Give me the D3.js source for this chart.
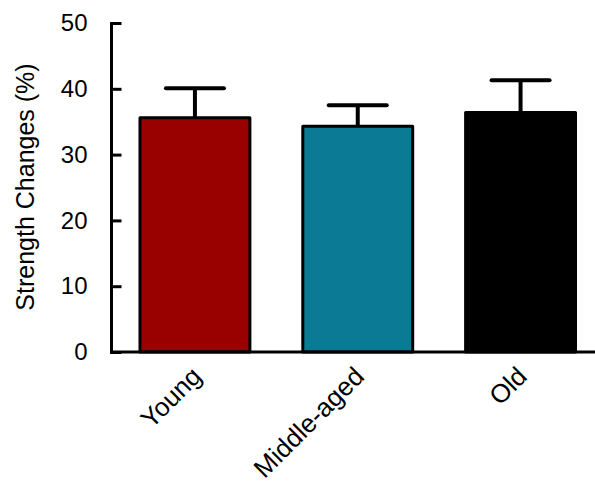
<!DOCTYPE html>
<html><head><meta charset="utf-8">
<script src="https://cdn.jsdelivr.net/npm/d3@7"></script>
<style>html,body{margin:0;padding:0;background:#fff;}svg{display:block;font-family:"Liberation Sans",Arial,sans-serif;}</style>
</head><body>
<script>
const categories = ["Young", "Middle-aged", "Old"];
const values = [35.6, 34.3, 36.4];
const errors = [4.5, 3.2, 4.9];
const colors = ["#990000", "#0B7A94", "#000000"];
const yTicks = [0, 10, 20, 30, 40, 50];

const W = 595, H = 482;
const svg = d3.select("body").append("svg").attr("width", W).attr("height", H);

const y = d3.scaleLinear().domain([0, 50]).range([352, 23]);
const x = d3.scaleBand().domain(categories).range([111.5, 604]).paddingInner(0.325).paddingOuter(0.175);

// bars
svg.selectAll("rect.bar").data(categories).join("rect")
  .attr("x", d => x(d)).attr("width", x.bandwidth())
  .attr("y", (d, i) => y(values[i])).attr("height", (d, i) => y(0) - y(values[i]))
  .attr("fill", (d, i) => colors[i]).attr("stroke", "#000").attr("stroke-width", 3).attr("stroke-linejoin", "round");

// error bars
const cap = 29;
const eb = svg.selectAll("g.err").data(categories).join("g");
eb.append("line")
  .attr("x1", d => x(d) + x.bandwidth()/2).attr("x2", d => x(d) + x.bandwidth()/2)
  .attr("y1", (d, i) => y(values[i])).attr("y2", (d, i) => y(values[i] + errors[i]))
  .attr("stroke", "#000").attr("stroke-width", 4);
eb.append("line")
  .attr("x1", d => x(d) + x.bandwidth()/2 - cap).attr("x2", d => x(d) + x.bandwidth()/2 + cap)
  .attr("y1", (d, i) => y(values[i] + errors[i])).attr("y2", (d, i) => y(values[i] + errors[i]))
  .attr("stroke", "#000").attr("stroke-width", 4).attr("stroke-linecap", "round");

// y axis
const yAxis = svg.append("g").attr("transform", "translate(111.5,0)")
  .call(d3.axisLeft(y).tickValues(yTicks).tickSize(-10).tickPadding(24).tickSizeOuter(0));
yAxis.select(".domain").attr("stroke-width", 3).attr("d", `M0,${y(50)}V${y(0)+1.5}`);
yAxis.selectAll(".tick line").attr("stroke-width", 3).attr("x1", -1.5);
yAxis.selectAll(".tick text").attr("font-size", 24).attr("fill", "#000").attr("font-family", "Liberation Sans, Arial, sans-serif");

// x axis
const xAxis = svg.append("g").attr("transform", `translate(0,${y(0)})`)
  .call(d3.axisBottom(x).tickSize(0).tickSizeOuter(0));
xAxis.select(".domain").attr("stroke-width", 3).attr("d", `M110,0H595`);
xAxis.selectAll(".tick text")
  .attr("font-size", 26).attr("fill", "#000").attr("font-family", "Liberation Sans, Arial, sans-serif")
  .attr("text-anchor", "end").attr("dy", 0).attr("y", 0)
  .attr("transform", "translate(8,26) rotate(-45)");

// y title
svg.append("text").attr("transform", `translate(34,${187}) rotate(-90)`)
  .attr("text-anchor", "middle").attr("font-size", 25).attr("fill", "#000")
  .text("Strength Changes (%)");
</script>
</body></html>
